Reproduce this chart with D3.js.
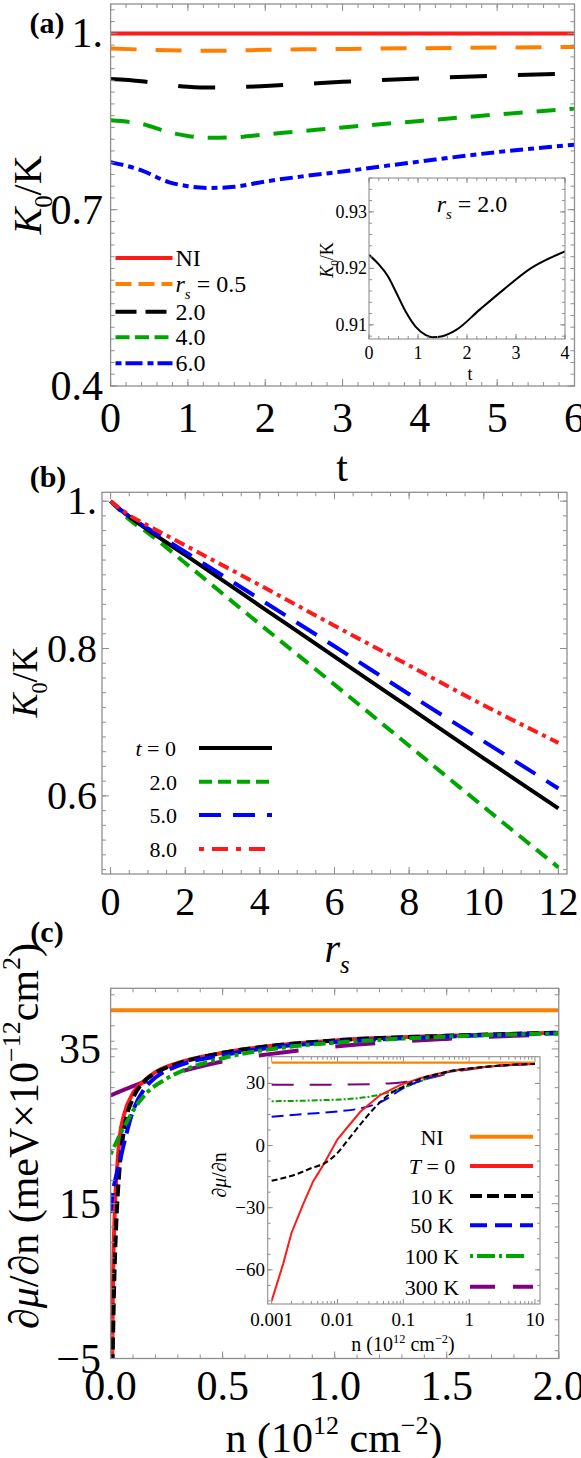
<!DOCTYPE html>
<html><head><meta charset="utf-8">
<script src="https://cdn.jsdelivr.net/npm/d3@7"></script>
<style>body{margin:0;background:#fff} svg{display:block}</style>
</head><body>
<svg id="chart" width="581" height="1458"></svg>
<script>
// ---------------- Panel (a) data ----------------
const aT     = [0, 0.4, 0.75, 1.0, 1.3, 1.6, 2.0, 2.5, 3.0, 4.0, 5.0, 6.0];
const aNI    = [1, 1, 1, 1, 1, 1, 1, 1, 1, 1, 1, 1];
const aRs05  = [0.9745, 0.9725, 0.9711, 0.9707, 0.9705, 0.9708, 0.9720, 0.9728, 0.9735, 0.9748, 0.9758, 0.9769];
const aRs2   = [0.9224, 0.9186, 0.9122, 0.9093, 0.9078, 0.9083, 0.9105, 0.9140, 0.9175, 0.9232, 0.9280, 0.9318];
const aRs4   = [0.852, 0.846, 0.832, 0.8255, 0.8224, 0.8232, 0.828, 0.834, 0.840, 0.851, 0.862, 0.872];
const aRs6   = [0.781, 0.767, 0.747, 0.740, 0.737, 0.739, 0.748, 0.757, 0.765, 0.782, 0.798, 0.8105];
const aXTicks = [0, 1, 2, 3, 4, 5, 6];
const aYTicks = [0.4, 0.7, 1.0];
const aYTickLabels = ["0.4", "0.7", "1."];
const aLegend = ["NI", "r_s = 0.5", "2.0", "4.0", "6.0"];
// inset (a): r_s = 2.0
const aInsT = [0, 0.2, 0.386, 0.54, 0.745, 0.95, 1.16, 1.3, 1.5, 1.78, 2.26, 2.74, 3.3, 4.0];
const aInsK = [0.9224, 0.9207, 0.9186, 0.9160, 0.9124, 0.9097, 0.9082, 0.9078, 0.9080, 0.9091, 0.9127, 0.9162, 0.9200, 0.9230];
const aInsXTicks = [0, 1, 2, 3, 4];
const aInsYTicks = [0.91, 0.92, 0.93];

// ---------------- Panel (b) data ----------------
const bRs = [0, 0.2, 0.5, 1, 2, 4, 6, 8, 10, 12];
const bT0 = [1.0, 0.991, 0.979, 0.961, 0.927, 0.858, 0.789, 0.720, 0.651, 0.583];
const bT2 = [1.0, 0.990, 0.975, 0.957, 0.916, 0.833, 0.751, 0.668, 0.585, 0.503];
const bT5 = [1.0, 0.991, 0.979, 0.963, 0.931, 0.867, 0.803, 0.738, 0.674, 0.610];
const bT8 = [1.0, 0.992, 0.981, 0.967, 0.940, 0.886, 0.831, 0.777, 0.723, 0.672];
const bXTicks = [0, 2, 4, 6, 8, 10, 12];
const bYTicks = [0.6, 0.8, 1.0];
const bYTickLabels = ["0.6", "0.8", "1."];
const bLegend = ["t = 0", "2.0", "5.0", "8.0"];

// ---------------- Panel (c) data (main) ----------------
const cNIN  = [0, 2];
const cNIV  = [40, 40];
const cRedN = [0.003, 0.0043, 0.006, 0.01, 0.02, 0.03, 0.04, 0.06, 0.1, 0.15, 0.2, 0.3, 0.5, 0.75, 1.0, 1.5, 2.0];
const cRedV = [-28.4, -17, -9, 3, 15, 20, 23.5, 26.5, 29.3, 30.9, 32.0, 33.2, 34.5, 35.5, 36.1, 36.7, 37.1];
const cBlkN = [0.001, 0.0024, 0.0043, 0.006, 0.0097, 0.0155, 0.025, 0.04, 0.064, 0.1, 0.15, 0.2, 0.3, 0.5, 0.75, 1.0, 1.5, 2.0];
const cBlkV = [-17, -13.8, -10.5, -8.9, -4, 4, 12.2, 19.5, 25.2, 28.6, 30.8, 31.9, 33.1, 34.5, 35.5, 36.1, 36.7, 37.1];
const cBluN = [0, 0.01, 0.02, 0.04, 0.06, 0.1, 0.15, 0.2, 0.3, 0.5, 0.75, 1.0, 1.5, 2.0];
const cBluV = [13.8, 16.5, 18.0, 20.3, 22.8, 27.0, 29.8, 31.3, 32.8, 34.2, 35.3, 35.9, 36.6, 37.0];
const cGrnN = [0, 0.02, 0.04, 0.06, 0.1, 0.16, 0.24, 0.33, 0.5, 0.8, 1.0, 1.5, 2.0];
const cGrnV = [21.4, 22.6, 23.8, 24.9, 27.0, 29.3, 31.0, 32.3, 33.8, 35.3, 35.8, 36.6, 37.0];
const cPurN = [0, 0.1, 0.16, 0.3, 0.5, 0.7, 1.0, 1.5, 2.0];
const cPurV = [29.0, 30.2, 30.85, 32.0, 33.4, 34.3, 35.3, 36.3, 36.9];
const cXTicks = [0, 0.5, 1.0, 1.5, 2.0];
const cXTickLabels = ["0.0", "0.5", "1.0", "1.5", "2.0"];
const cYTicks = [-5, 15, 35];
const cYTickLabels = ["\u22125", "15", "35"];
// inset (c), log n axis
const ciNIN  = [0.001, 10];
const ciNIV  = [40, 40];
const ciRedN = [0.001, 0.0015, 0.002, 0.003, 0.0043, 0.006, 0.01, 0.022, 0.044, 0.089, 0.18, 0.32, 0.57, 1.0, 1.86, 4, 10];
const ciRedV = [-75, -57, -42.2, -28.4, -17.1, -9.7, 3.0, 16.2, 24.3, 29.2, 32.5, 34.5, 36.2, 37.2, 38.1, 38.9, 39.4];
const ciBlkN = [0.001, 0.0024, 0.0043, 0.0061, 0.0097, 0.0155, 0.025, 0.04, 0.064, 0.1, 0.18, 0.32, 0.57, 1.0, 1.86, 4, 10];
const ciBlkV = [-17, -13.8, -10.5, -8.9, -4.0, 4.0, 12.2, 19.5, 25.2, 28.4, 32.2, 34.4, 36.2, 37.2, 38.1, 38.9, 39.4];
const ciBluN = [0.001, 0.003, 0.01, 0.022, 0.04, 0.057, 0.089, 0.18, 0.32, 0.57, 1.0, 1.86, 4, 10];
const ciBluV = [13.9, 15.2, 16.5, 17.9, 20.3, 22.7, 26.8, 31.2, 34.0, 36.0, 37.1, 38.1, 38.9, 39.4];
const ciGrnN = [0.001, 0.0055, 0.018, 0.036, 0.072, 0.1, 0.18, 0.32, 0.57, 1.0, 1.86, 4, 10];
const ciGrnV = [21.4, 21.9, 22.7, 24.0, 26.5, 28.0, 31.0, 33.8, 35.9, 37.0, 38.0, 38.9, 39.4];
const ciPurN = [0.001, 0.01, 0.03, 0.06, 0.1, 0.18, 0.32, 0.57, 1.0, 1.86, 4, 10];
const ciPurV = [29.4, 29.4, 29.6, 30.0, 30.6, 31.6, 33.3, 35.4, 36.7, 37.8, 38.8, 39.4];
const ciXTicks = [0.001, 0.01, 0.1, 1, 10];
const ciXTickLabels = ["0.001", "0.01", "0.1", "1", "10"];
const ciYTicks = [-60, -30, 0, 30];
const ciYTickLabels = ["\u221260", "\u221230", "0", "30"];
const cLegend = ["NI", "T = 0", "10 K", "50 K", "100 K", "300 K"];

// ---------------- drawing ----------------
const svg = d3.select('#chart');
const FONT = "'Liberation Serif','Times New Roman',serif";
const FRAME = '#8f8f8f';
const C = {red:'#ff1a1a', orange:'#ff8000', black:'#000', green:'#00a600', blue:'#0000ff', purple:'#800080'};
svg.append('rect').attr('width',581).attr('height',1458).attr('fill','#fff');

function rich(sel, parts, fs) {
  let shift = 0;
  parts.forEach(p => {
    const target = p.sub ? fs*0.28 : p.sup ? -fs*0.42 : 0;
    const ts = sel.append('tspan').text(p.t).attr('dy', target - shift);
    shift = target;
    if (p.sub || p.sup) ts.attr('font-size', fs*0.62);
    if (p.i) ts.attr('font-style','italic');
  });
  return sel;
}
function txt(g, x, y, fs, anchor) {
  return g.append('text').attr('x',x).attr('y',y).attr('font-family',FONT)
    .attr('font-size',fs).attr('text-anchor',anchor||'start').attr('fill','#000');
}
function range(a, b, s) { const r=[]; for (let v=a; v<=b+1e-9; v+=s) r.push(+v.toFixed(6)); return r; }

function frame(g, xs, ys, o) {
  const [x0,x1] = xs.range(), [yb,yt] = ys.range();
  g.append('rect').attr('x',x0).attr('y',yt).attr('width',x1-x0).attr('height',yb-yt)
    .attr('fill','none').attr('stroke',FRAME).attr('stroke-width',o.sw||1.3);
  const tk = g.append('g').attr('stroke',FRAME).attr('stroke-width',1);
  const doX = (vals,len) => vals.forEach(v => { const x = xs(v); if (x < x0-0.5 || x > x1+0.5) return;
    tk.append('line').attr('x1',x).attr('x2',x).attr('y1',yb).attr('y2',yb-len);
    tk.append('line').attr('x1',x).attr('x2',x).attr('y1',yt).attr('y2',yt+len); });
  const doY = (vals,len) => vals.forEach(v => { const y = ys(v); if (y > yb+0.5 || y < yt-0.5) return;
    tk.append('line').attr('y1',y).attr('y2',y).attr('x1',x0).attr('x2',x0+len);
    tk.append('line').attr('y1',y).attr('y2',y).attr('x1',x1).attr('x2',x1-len); });
  doX(o.xMinor, o.minLen); doX(o.xMajor, o.majLen);
  doY(o.yMinor, o.minLen); doY(o.yMajor, o.majLen);
}
function clip(id, xs, ys) {
  const [x0,x1] = xs.range(), [yb,yt] = ys.range();
  svg.append('clipPath').attr('id',id).append('rect').attr('x',x0).attr('y',yt).attr('width',x1-x0).attr('height',yb-yt);
}
function series(g, xs, ys, X, Y, color, w, dash, curve) {
  const pts = X.map((x,i)=>[x,Y[i]]);
  const line = d3.line().x(d=>xs(d[0])).y(d=>ys(d[1])).curve(curve||d3.curveMonotoneX);
  g.append('path').attr('d', line(pts)).attr('fill','none').attr('stroke',color)
    .attr('stroke-width',w).attr('stroke-dasharray',dash||null).attr('stroke-linecap','butt');
}
function legLine(g, x0, x1, y, color, w, dash) {
  g.append('line').attr('x1',x0).attr('x2',x1).attr('y1',y).attr('y2',y).attr('stroke',color)
    .attr('stroke-width',w).attr('stroke-dasharray',dash||null);
}

// ===== Panel (a) =====
{
  const xs = d3.scaleLinear([0,6],[110.6,574.5]);
  const ys = d3.scaleLinear([0.4,1.05],[386,4]);
  const g = svg.append('g');
  clip('clipA', xs, ys);
  const pg = g.append('g').attr('clip-path','url(#clipA)');
  series(pg, xs, ys, aT, aRs6, C.blue, 4, '13,5,6,5');
  series(pg, xs, ys, aT, aRs4, C.green, 4, '19,14');
  series(pg, xs, ys, aT, aRs2, C.black, 4, '37,31');
  series(pg, xs, ys, aT, aRs05, C.orange, 4, '26,19');
  series(pg, xs, ys, aT, aNI, C.red, 4, null);
  frame(g, xs, ys, {xMajor:aXTicks, xMinor:range(0,6,0.2), yMajor:aYTicks, yMinor:range(0.4,1.04,0.02), majLen:7, minLen:4});
  aXTicks.forEach(v => txt(g, xs(v), 432, 42, 'middle').text(v));
  aYTicks.forEach((v,i) => txt(g, 103, ys(v)+14, 42, 'end').text(aYTickLabels[i]));
  txt(g, 342, 481, 42, 'middle').text('t');
  txt(g, 47, 33, 30, 'middle').attr('font-weight','bold').text('(a)');
  rich(g.append('text').attr('font-family',FONT).attr('font-size',40).attr('text-anchor','middle')
      .attr('transform','translate(41,195) rotate(-90)'),
      [{t:'K',i:true},{t:'0',sub:true},{t:'/K'}], 40);
  // legend
  const ly = [258, 284, 311.7, 337.3, 363.3];
  const lc = [[C.red,null],[C.orange,'16,7'],[C.black,'21,9'],[C.green,'14,5.5'],[C.blue,'6,4,17,5']];
  ly.forEach((y,i) => legLine(g, 115.5, 172.5, y, lc[i][0], 4, lc[i][1]));
  txt(g, 175.5, ly[0]+8, 24).text(aLegend[0]);
  rich(txt(g, 175.5, ly[1]+8, 24), [{t:'r',i:true},{t:'s',i:true,sub:true},{t:' = 0.5'}], 24);
  txt(g, 175.5, ly[2]+8, 24).text(aLegend[2]);
  txt(g, 175.5, ly[3]+8, 24).text(aLegend[3]);
  txt(g, 175.5, ly[4]+8, 24).text(aLegend[4]);

  // inset
  const xi = d3.scaleLinear([0,4],[369,565]);
  const yi = d3.scaleLinear([0.9075,0.936],[339,178]);
  g.append('rect').attr('x',369).attr('y',178).attr('width',196).attr('height',161).attr('fill','#fff');
  clip('clipAi', xi, yi);
  const ig = g.append('g').attr('clip-path','url(#clipAi)');
  series(ig, xi, yi, aInsT, aInsK, C.black, 2, null);
  frame(g, xi, yi, {xMajor:aInsXTicks, xMinor:range(0,4,0.2), yMajor:aInsYTicks, yMinor:range(0.908,0.936,0.002), majLen:5, minLen:3, sw:1.1});
  aInsXTicks.forEach(v => txt(g, xi(v), 359, 18, 'middle').text(v));
  aInsYTicks.forEach(v => txt(g, 367, yi(v)+6, 18, 'end').text(v.toFixed(2)));
  txt(g, 470, 380, 18, 'middle').text('t');
  rich(g.append('text').attr('font-family',FONT).attr('font-size',18).attr('text-anchor','middle')
      .attr('transform','translate(333,260) rotate(-90)'),
      [{t:'K',i:true},{t:'0',sub:true},{t:'/K'}], 18);
  rich(txt(g, 472, 212, 24, 'middle'), [{t:'r',i:true},{t:'s',i:true,sub:true},{t:' = 2.0'}], 24);
}

// ===== Panel (b) =====
{
  const xs = d3.scaleLinear([-0.23,12.23],[102,567]);
  const ys = d3.scaleLinear([0.494,1.012],[874,492.3]);
  const g = svg.append('g');
  clip('clipB', xs, ys);
  const pg = g.append('g').attr('clip-path','url(#clipB)');
  series(pg, xs, ys, bRs, bT2, C.green, 4, '14,8');
  series(pg, xs, ys, bRs, bT0, C.black, 4, null);
  series(pg, xs, ys, bRs, bT5, C.blue, 4, '24,13');
  series(pg, xs, ys, bRs, bT8, C.red, 4, '11,5,4,5');
  frame(g, xs, ys, {xMajor:bXTicks, xMinor:range(0,12,0.5), yMajor:bYTicks, yMinor:range(0.5,1.0,0.02), majLen:7, minLen:4});
  bXTicks.forEach(v => txt(g, xs(v), 915, 40, 'middle').text(v));
  bYTicks.forEach((v,i) => txt(g, 97, ys(v)+13, 40, 'end').text(bYTickLabels[i]));
  rich(txt(g, 337, 962, 40, 'middle'), [{t:'r',i:true},{t:'s',i:true,sub:true}], 40);
  txt(g, 48, 487, 30, 'middle').attr('font-weight','bold').text('(b)');
  rich(g.append('text').attr('font-family',FONT).attr('font-size',36).attr('text-anchor','middle')
      .attr('transform','translate(37,682) rotate(-90)'),
      [{t:'K',i:true},{t:'0',sub:true},{t:'/K'}], 36);
  const ly = [748, 781.7, 815, 849];
  const lc = [[C.black,null],[C.green,'13,6'],[C.blue,'22,12'],[C.red,'5,8,16,8']];
  ly.forEach((y,i) => legLine(g, 199, 272, y, lc[i][0], 4, lc[i][1]));
  rich(txt(g, 176, ly[0]+8, 22, 'end'), [{t:'t',i:true},{t:' = 0'}], 22);
  [1,2,3].forEach(i => txt(g, 177, ly[i]+8, 22, 'end').text(bLegend[i]));
}

// ===== Panel (c) =====
{
  const xs = d3.scaleLinear([0,2],[110.6,558.75]);
  const ys = d3.scaleLinear([-5,42.84],[1358.5,988.3]);
  const g = svg.append('g');
  clip('clipC', xs, ys);
  const pg = g.append('g').attr('clip-path','url(#clipC)');
  series(pg, xs, ys, cNIN, cNIV, C.orange, 4, null);
  series(pg, xs, ys, cPurN, cPurV, C.purple, 4, '40,37');
  series(pg, xs, ys, cRedN, cRedV, C.red, 4, null);
  series(pg, xs, ys, cBlkN, cBlkV, C.black, 4, '12,5');
  series(pg, xs, ys, cBluN, cBluV, C.blue, 4, '20,7');
  series(pg, xs, ys, cGrnN, cGrnV, C.green, 4, '4,4,12,4');
  frame(g, xs, ys, {xMajor:cXTicks, xMinor:range(0,2,0.1), yMajor:cYTicks, yMinor:range(-4,42,2), majLen:7, minLen:4});
  cXTicks.forEach((v,i) => txt(g, xs(v), 1400, 42, 'middle').text(cXTickLabels[i]));
  cYTicks.forEach((v,i) => txt(g, 101, ys(v)+14, 42, 'end').text(cYTickLabels[i]));
  rich(txt(g, 334, 1452, 42, 'middle'),
       [{t:'n (10'},{t:'12',sup:true},{t:' cm'},{t:'\u22122',sup:true},{t:')'}], 42);
  txt(g, 47, 942, 30, 'middle').attr('font-weight','bold').text('(c)');
  rich(g.append('text').attr('font-family',FONT).attr('font-size',42).attr('text-anchor','middle')
      .attr('transform','translate(38,1136) rotate(-90)'),
      [{t:'\u2202'},{t:'\u03bc',i:true},{t:'/\u2202n (meV\u00d710'},{t:'\u221212',sup:true},{t:'cm'},{t:'2',sup:true},{t:')'}], 42);

  // inset
  const xi = d3.scaleLog([Math.pow(10,-3.06), Math.pow(10,1.076)],[267.7,540]);
  const yi = d3.scaleLinear([-76.5,42.9],[1304,1056.7]);
  g.append('rect').attr('x',267.7).attr('y',1056.7).attr('width',272.3).attr('height',247.3).attr('fill','#fff');
  clip('clipCi', xi, yi);
  const ig = g.append('g').attr('clip-path','url(#clipCi)');
  series(ig, xi, yi, ciNIN, ciNIV, C.orange, 2.2, null, d3.curveLinear);
  series(ig, xi, yi, ciPurN, ciPurV, C.purple, 2, '22,16');
  series(ig, xi, yi, ciGrnN, ciGrnV, C.green, 2, '2,2,6,2');
  series(ig, xi, yi, ciBluN, ciBluV, C.blue, 2, '12,6');
  series(ig, xi, yi, ciRedN, ciRedV, C.red, 2, null, d3.curveLinear);
  series(ig, xi, yi, ciBlkN, ciBlkV, C.black, 2, '6,3');
  const minorLog = [];
  [0.001,0.01,0.1,1,10].forEach(d => [2,3,4,5,6,7,8,9].forEach(k => minorLog.push(d*k)));
  frame(g, xi, yi, {xMajor:ciXTicks, xMinor:minorLog, yMajor:ciYTicks, yMinor:range(-75,37.5,7.5), majLen:5, minLen:3, sw:1.1});
  ciXTicks.forEach((v,i) => txt(g, xi(v), 1326, 19, 'middle').text(ciXTickLabels[i]));
  ciYTicks.forEach((v,i) => txt(g, 265, yi(v)+6, 19, 'end').text(ciYTickLabels[i]));
  rich(txt(g, 403, 1351, 20, 'middle'),
       [{t:'n (10'},{t:'12',sup:true},{t:' cm'},{t:'\u22122',sup:true},{t:')'}], 20);
  rich(g.append('text').attr('font-family',FONT).attr('font-size',20).attr('text-anchor','middle')
      .attr('transform','translate(226,1175) rotate(-90)'),
      [{t:'\u2202'},{t:'\u03bc',i:true},{t:'/\u2202n'}], 20);
  const ly = [1136.7, 1166, 1196, 1225.3, 1256, 1286.7];
  const lc = [[C.orange,null,533],[C.red,null,533],[C.black,'12,5',533],[C.blue,'17,8',533],[C.green,'3,4,18,4',527],[C.purple,'25,18',533]];
  ly.forEach((y,i) => legLine(g, 470, lc[i][2], y, lc[i][0], 4, lc[i][1]));
  txt(g, 432, ly[0]+8, 22, 'middle').text(cLegend[0]);
  rich(txt(g, 432, ly[1]+8, 22, 'middle'), [{t:'T',i:true},{t:' = 0'}], 22);
  [2,3,4,5].forEach(i => txt(g, 432, ly[i]+8, 22, 'middle').text(cLegend[i]));
}
</script>
</body></html>
